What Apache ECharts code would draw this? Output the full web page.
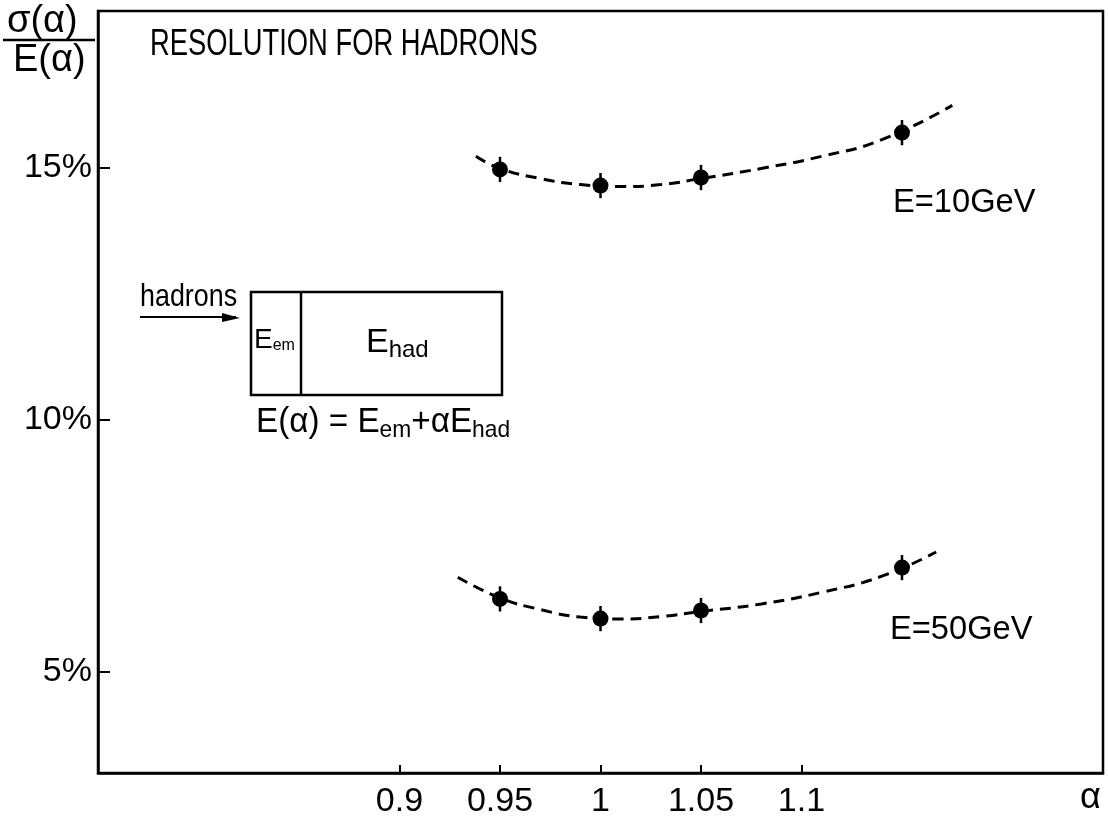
<!DOCTYPE html>
<html>
<head>
<meta charset="utf-8">
<script src="https://cdn.jsdelivr.net/npm/echarts@6/dist/echarts.min.js"></script>
<style>
  html, body { margin: 0; padding: 0; background: #fff; }
  #chart { width: 1108px; height: 823px; }
</style>
</head>
<body>
<div id="chart"></div>
<script>
// Measured points: relative resolution (%) versus weighting factor alpha
const alphaPts = [0.95, 1.0, 1.05, 1.15];
const res10 = [14.96, 14.64, 14.80, 15.69];
const err10 = [0.25, 0.25, 0.25, 0.25];
const res50 = [6.45, 6.06, 6.22, 7.07];
const err50 = [0.25, 0.25, 0.25, 0.25];

// Fitted curves (dashed)
const fit10Alpha = [0.938, 0.95, 0.97, 0.99, 1.01, 1.03, 1.05, 1.08, 1.11, 1.14, 1.175];
const fit10Res   = [15.22, 14.98, 14.78, 14.66, 14.62, 14.66, 14.78, 14.98, 15.22, 15.55, 16.23];
const fit50Alpha = [0.929, 0.95, 0.97, 0.99, 1.01, 1.03, 1.05, 1.08, 1.11, 1.14, 1.167];
const fit50Res   = [6.88, 6.47, 6.24, 6.09, 6.05, 6.10, 6.20, 6.35, 6.58, 6.90, 7.38];

// Axis ticks
const xTicks = [0.9, 0.95, 1, 1.05, 1.1];
const xTickLabels = ['0.9', '0.95', '1', '1.05', '1.1'];
const yTicks = [5, 10, 15];
const yTickLabels = ['5%', '10%', '15%'];

const FONT = "'Liberation Sans', 'Noto Sans', sans-serif";
const INK = '#000';

const zip = (a, b) => a.map((v, i) => [v, b[i]]);
const zip3 = (a, b, c) => a.map((v, i) => [v, b[i], c[i]]);

function errorBars(params, api) {
  const x = api.value(0), y = api.value(1), e = api.value(2);
  const top = api.coord([x, y + e]);
  const bot = api.coord([x, y - e]);
  return {
    type: 'line',
    shape: { x1: top[0], y1: top[1], x2: bot[0], y2: bot[1] },
    style: { stroke: INK, lineWidth: 2.5 }
  };
}

// narrow plotter-style lettering: horizontally condensed text
function label(x, y, text, size, sx, extra) {
  return Object.assign({
    type: 'text', x: x, y: y, scaleX: sx, originX: 0, originY: 0,
    style: { text: text, font: `${size}px ${FONT}`, fill: INK }
  }, extra || {});
}

const chart = echarts.init(document.getElementById('chart'), null, { renderer: 'canvas' });

const option = {
  backgroundColor: '#fff',
  animation: false,
  grid: {
    left: 98, top: 11, right: 5, bottom: 50,
    show: true, borderColor: INK, borderWidth: 2.5, backgroundColor: 'transparent'
  },
  xAxis: {
    type: 'value', min: 0.75, max: 1.25, interval: 0.05,
    axisLine: { show: true, lineStyle: { color: INK, width: 2.5 } },
    axisTick: { show: true, inside: true, length: 8, customValues: xTicks, lineStyle: { color: INK, width: 2 } },
    axisLabel: {
      show: true, customValues: xTicks, margin: 12,
      fontFamily: FONT, fontSize: 34, color: INK,
      formatter: v => xTickLabels[xTicks.findIndex(t => Math.abs(t - v) < 1e-6)] || ''
    },
    splitLine: { show: false }
  },
  yAxis: {
    type: 'value', min: 3.0, max: 18.1,
    axisLine: { show: true, lineStyle: { color: INK, width: 2.5 } },
    axisTick: { show: true, inside: true, length: 12, customValues: yTicks, lineStyle: { color: INK, width: 2 } },
    axisLabel: {
      show: true, customValues: yTicks, margin: 6,
      fontFamily: FONT, fontSize: 34, color: INK,
      formatter: v => yTickLabels[yTicks.findIndex(t => Math.abs(t - v) < 1e-6)] || ''
    },
    splitLine: { show: false }
  },
  series: [
    {
      type: 'line', data: zip(fit10Alpha, fit10Res), smooth: true, symbol: 'none',
      lineStyle: { color: INK, width: 3, type: [11, 7] }, z: 2
    },
    {
      type: 'line', data: zip(fit50Alpha, fit50Res), smooth: true, symbol: 'none',
      lineStyle: { color: INK, width: 3, type: [11, 7] }, z: 2
    },
    { type: 'custom', data: zip3(alphaPts, res10, err10), renderItem: errorBars, z: 3 },
    { type: 'custom', data: zip3(alphaPts, res50, err50), renderItem: errorBars, z: 3 },
    {
      type: 'scatter', data: zip(alphaPts, res10), symbol: 'circle', symbolSize: 16,
      itemStyle: { color: INK, opacity: 1 }, z: 4
    },
    {
      type: 'scatter', data: zip(alphaPts, res50), symbol: 'circle', symbolSize: 16,
      itemStyle: { color: INK, opacity: 1 }, z: 4
    }
  ],
  graphic: [
    // y-axis quantity as a fraction
    label(7, 3, 'σ(α)', 38, 1),
    { type: 'line', shape: { x1: 3, y1: 40, x2: 95, y2: 40 }, style: { stroke: INK, lineWidth: 2.5 } },
    label(13, 42, 'E(α)', 38, 1),

    // horizontal-axis quantity
    label(1080, 780, 'α', 36, 1),

    // title
    label(150, 27, 'RESOLUTION FOR HADRONS', 36, 0.76),

    // energy labels
    label(893, 186, 'E=10GeV', 34, 0.96),
    label(890, 613, 'E=50GeV', 34, 0.96),

    // calorimeter sketch
    label(140, 281, 'hadrons', 32, 0.84),
    { type: 'line', shape: { x1: 140, y1: 317, x2: 236, y2: 317 }, style: { stroke: INK, lineWidth: 2 } },
    { type: 'polygon', shape: { points: [[240, 318], [222, 313], [222, 322]] }, style: { fill: INK } },
    { type: 'rect', shape: { x: 251, y: 292, width: 251, height: 103 }, style: { fill: 'none', stroke: INK, lineWidth: 2.5 } },
    { type: 'line', shape: { x1: 301, y1: 292, x2: 301, y2: 395 }, style: { stroke: INK, lineWidth: 2.5 } },
    {
      type: 'text', x: 254, y: 326,
      style: {
        text: '{e|E}{s|em}', fill: INK,
        rich: { e: { font: `28px ${FONT}`, fill: INK }, s: { font: `16px ${FONT}`, fill: INK, verticalAlign: 'bottom', padding: [10, 0, 0, 0] } }
      }
    },
    {
      type: 'text', x: 366, y: 324,
      style: {
        text: '{e|E}{s|had}', fill: INK,
        rich: { e: { font: `34px ${FONT}`, fill: INK }, s: { font: `24px ${FONT}`, fill: INK, verticalAlign: 'bottom', padding: [14, 0, 0, 0] } }
      }
    },
    {
      type: 'text', x: 256, y: 402, scaleX: 0.95,
      style: {
        text: '{e|E(α) = E}{s|em}{e|+αE}{s|had}', fill: INK,
        rich: { e: { font: `35px ${FONT}`, fill: INK }, s: { font: `24px ${FONT}`, fill: INK, verticalAlign: 'bottom', padding: [16, 0, 0, 0] } }
      }
    }
  ]
};

chart.setOption(option);
</script>
</body>
</html>
